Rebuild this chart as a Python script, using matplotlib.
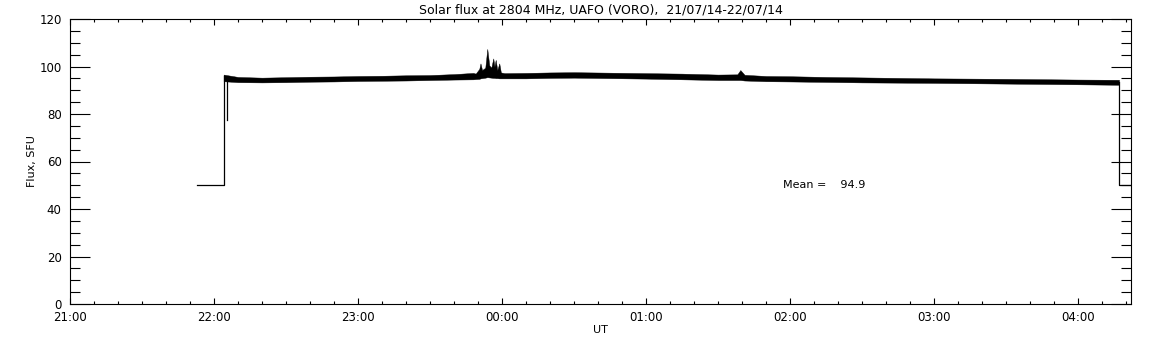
import matplotlib
matplotlib.use("Agg")
import matplotlib.pyplot as plt
from matplotlib.ticker import MultipleLocator

# noisy flux band: upper and lower envelope (SFU)
band_times = ["22:04", "22:10", "22:20", "22:30", "22:40", "22:50", "23:00", "23:10",
              "23:20", "23:30", "23:40", "23:48", "23:49", "23:50:30", "23:51", "23:51:40",
              "23:53", "23:53:50", "23:54:40", "23:55:30", "23:56:20", "23:56:50",
              "23:57:20", "23:58", "23:58:50", "23:59:30", "00:01", "00:10", "00:20",
              "00:30", "00:45", "01:00", "01:15", "01:30", "01:38", "01:39:15", "01:41",
              "01:50", "02:00", "02:15", "02:30", "03:00", "03:30", "04:00", "04:17"]
band_high = [96.6, 95.6, 95.3, 95.5, 95.7, 95.8, 96.0, 96.1,
             96.3, 96.4, 96.8, 97.3, 97.0, 99.0, 101.3, 98.5,
             99.5, 107.4, 100.5, 99.5, 103.4, 100.0,
             102.8, 98.5, 101.3, 97.5, 97.2, 97.3, 97.5,
             97.6, 97.4, 97.2, 97.0, 96.6, 96.7, 98.5, 96.5,
             96.0, 95.9, 95.6, 95.4, 95.0, 94.8, 94.5, 94.4]
band_low = [93.8, 93.4, 93.3, 93.4, 93.6, 93.7, 93.9, 94.0,
            94.1, 94.3, 94.5, 94.6, 94.7, 94.8, 95.0, 95.1,
            95.3, 95.5, 95.4, 95.3, 95.2, 95.2,
            95.1, 95.1, 95.0, 95.0, 95.0, 95.0, 95.2,
            95.3, 95.1, 94.9, 94.6, 94.3, 94.3, 94.3, 94.1,
            93.8, 93.7, 93.5, 93.3, 93.1, 92.8, 92.5, 92.3]

# single-line parts of the trace (start step, dropout, end step)
start_times = ["21:53", "22:04", "22:04"]
start_flux = [50, 50, 96]
dip_times = ["22:05:30", "22:05:30"]
dip_flux = [95.5, 77.5]
end_times = ["04:17", "04:17", "04:22"]
end_flux = [93.5, 50, 50]

hour_labels = ["21:00", "22:00", "23:00", "00:00", "01:00", "02:00", "03:00", "04:00"]
mean_flux = 94.9


def hours_after_21(t):
    parts = [int(p) for p in t.split(":")]
    h = parts[0] + parts[1] / 60 + (parts[2] / 3600 if len(parts) > 2 else 0)
    if h < 21:
        h += 24
    return h - 21


bx = [hours_after_21(t) for t in band_times]

fig = plt.figure(figsize=(11.52, 3.45), dpi=100)
ax = fig.add_axes([70 / 1152, 41 / 345, 1061 / 1152, 285 / 345])

ax.fill_between(bx, band_low, band_high, color="black", linewidth=0.3)
ax.plot([hours_after_21(t) for t in start_times], start_flux, color="black", lw=0.9)
ax.plot([hours_after_21(t) for t in dip_times], dip_flux, color="black", lw=0.9)
ax.plot([hours_after_21(t) for t in end_times], end_flux, color="black", lw=0.9)

ax.text(4.95, 50, "Mean =    %.1f" % mean_flux, fontsize=8, va="center", ha="left")

ax.set_xlim(0, hours_after_21(end_times[-1]))
ax.set_ylim(0, 120)
ax.set_xticks(range(len(hour_labels)))
ax.set_xticklabels(hour_labels)
ax.xaxis.set_minor_locator(MultipleLocator(1 / 6))
ax.yaxis.set_major_locator(MultipleLocator(20))
ax.yaxis.set_minor_locator(MultipleLocator(5))

ax.tick_params(axis="x", which="major", direction="in", length=4, width=0.8,
               top=True, labelsize=8.5, pad=5)
ax.tick_params(axis="x", which="minor", direction="in", length=2, width=0.8, top=True)
ax.tick_params(axis="y", which="major", direction="in", length=14.5, width=0.8,
               right=True, labelsize=8.5, pad=6)
ax.tick_params(axis="y", which="minor", direction="in", length=7.5, width=0.8, right=True)
for s in ax.spines.values():
    s.set_linewidth(0.8)

ax.set_title("Solar flux at 2804 MHz, UAFO (VORO),  21/07/14-22/07/14", fontsize=9, pad=4)
ax.set_xlabel("UT", fontsize=8, labelpad=1)
ax.set_ylabel("Flux, SFU", fontsize=8, labelpad=2)

fig.savefig("out.png", dpi=100)
